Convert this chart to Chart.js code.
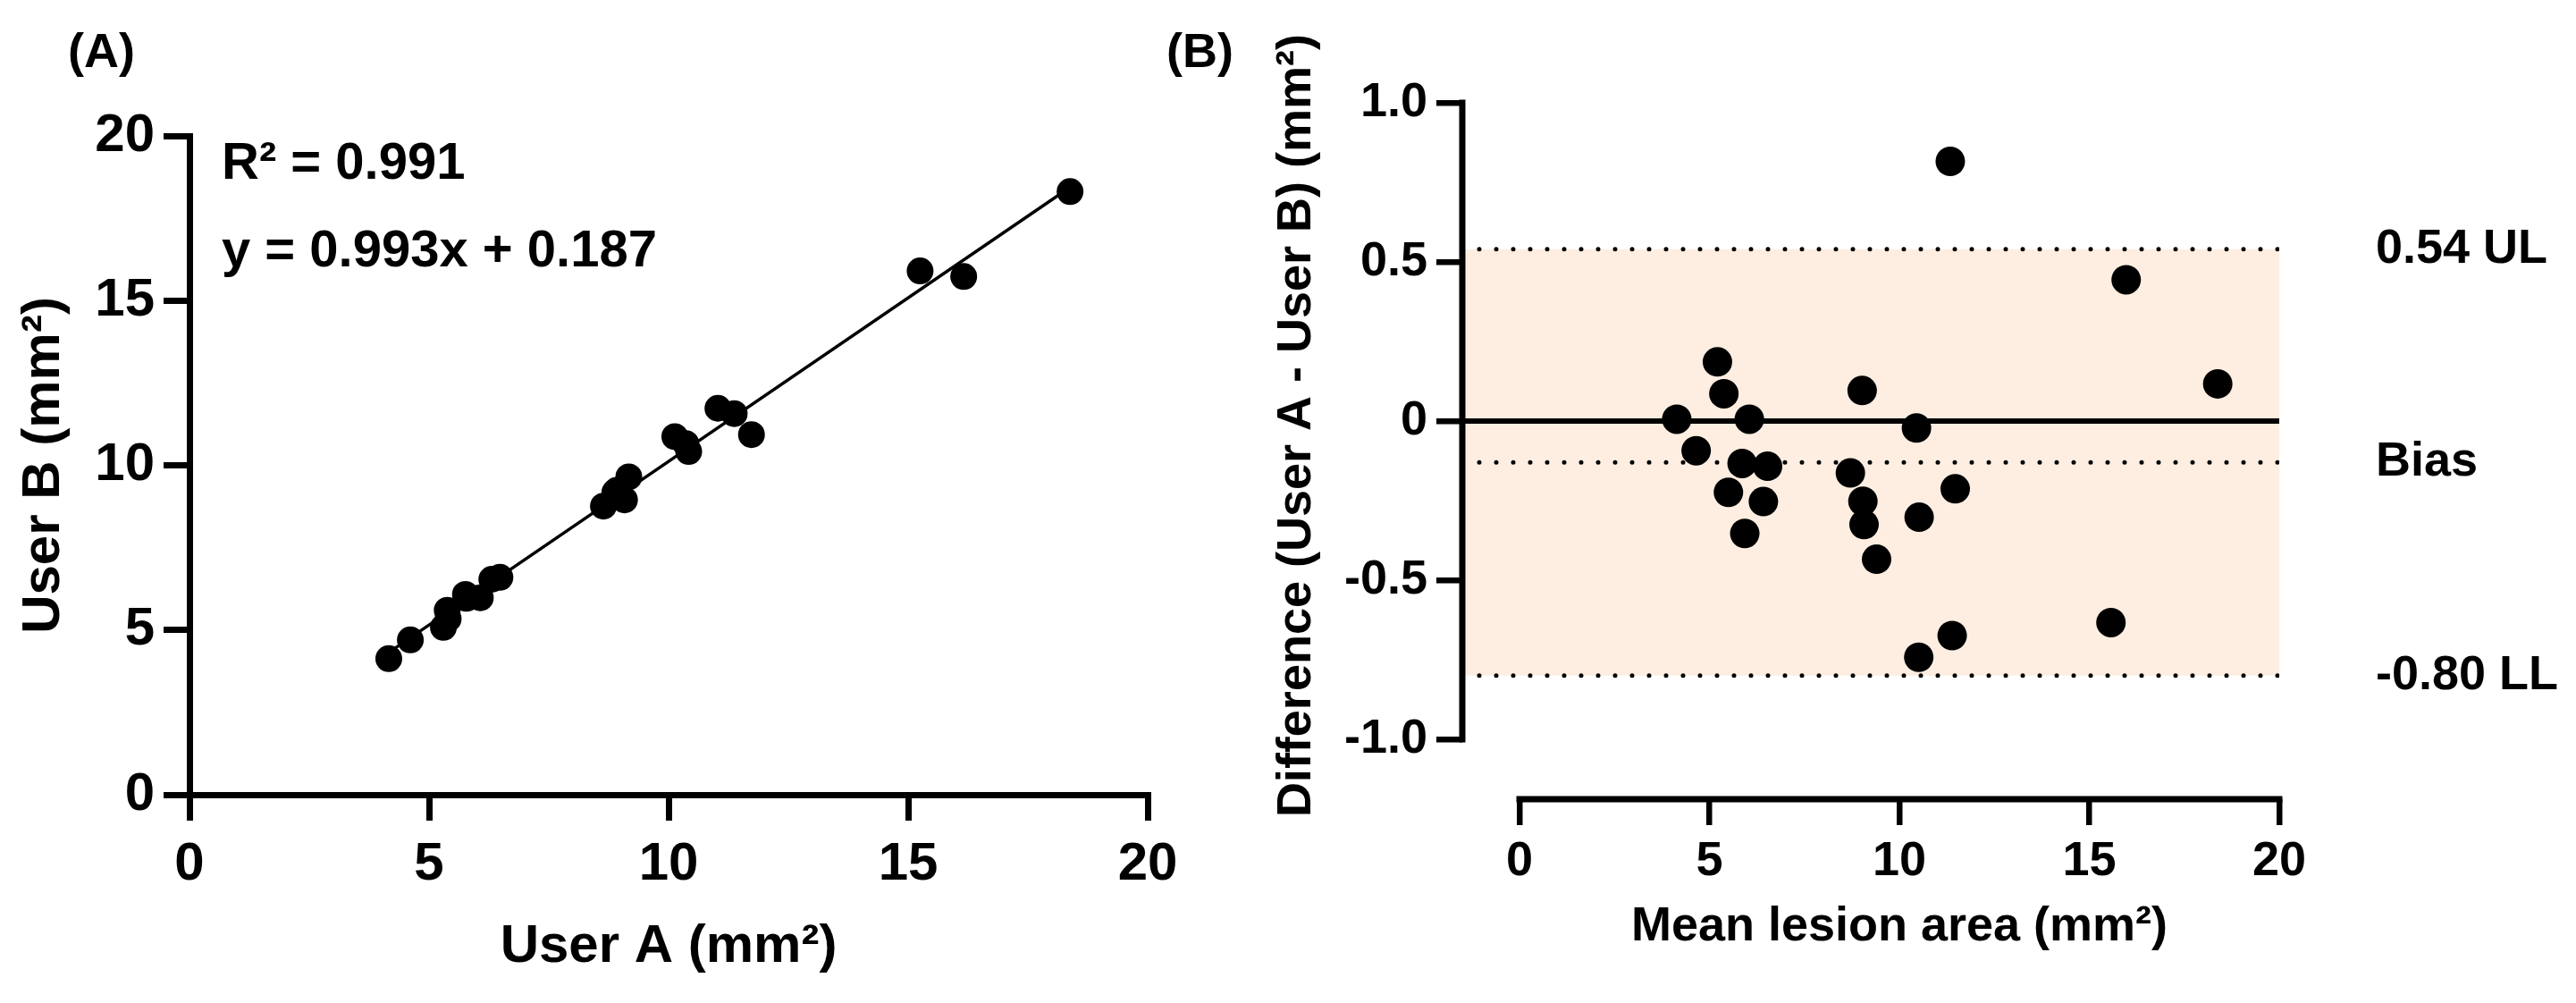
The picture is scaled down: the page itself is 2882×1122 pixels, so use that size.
<!DOCTYPE html>
<html><head><meta charset="utf-8">
<script src="https://cdn.jsdelivr.net/npm/chart.js@4.4.1/dist/chart.umd.min.js"></script>
<style>
html,body{margin:0;padding:0;background:#fff;}
body{width:2882px;height:1122px;position:relative;overflow:hidden;}
canvas{position:absolute;top:0;}
#cA{left:0;width:1440px;height:1122px;}
#cB{left:1300px;width:1582px;height:1122px;}
</style></head><body>
<canvas id="cA" width="1440" height="1122"></canvas>
<canvas id="cB" width="1582" height="1122"></canvas>
<script>
// ---------- Panel A: User A vs User B ----------
const userA = [4.16, 4.61, 5.30, 5.40, 5.38, 5.78, 5.76, 6.07, 6.31, 6.48, 8.64, 9.08, 8.88, 8.92, 9.17, 10.42, 10.36, 10.13, 11.73, 11.03, 11.37, 15.25, 16.16, 18.38];
const userB = [4.13, 4.70, 5.08, 5.34, 5.60, 5.96, 6.08, 5.98, 6.54, 6.60, 8.76, 8.95, 9.18, 9.24, 9.65, 10.42, 10.66, 10.87, 10.93, 11.73, 11.57, 15.90, 15.73, 18.31];
const fitSlope = 0.993;
const fitIntercept = 0.187;
const fitTexts = ['R\u00B2 = 0.991', 'y = 0.993x + 0.187'];
const ticksA = [0, 5, 10, 15, 20];
const tickLabelsA = ['0', '5', '10', '15', '20'];

// ---------- Panel B: Bland-Altman ----------
const meanArea = [4.14, 4.65, 5.21, 5.38, 5.50, 5.86, 5.93, 6.05, 6.42, 6.53, 8.71, 9.02, 9.04, 9.07, 9.40, 10.45, 10.52, 10.51, 11.34, 11.39, 11.47, 15.57, 15.97, 18.38];
const diffAB = [0.006, -0.093, 0.186, 0.086, -0.224, -0.133, -0.353, 0.006, -0.253, -0.142, -0.163, 0.096, -0.252, -0.325, -0.434, -0.022, -0.302, -0.742, 0.816, -0.674, -0.213, -0.633, 0.444, 0.117];
const limitValues = [0.54, -0.13, -0.80];
const limitLabels = ['0.54 UL', 'Bias', '-0.80 LL'];
const xTicksB = [0, 5, 10, 15, 20];
const xTickLabelsB = ['0', '5', '10', '15', '20'];
const yTicksB = [-1, -0.5, 0, 0.5, 1];
const yTickLabelsB = ['-1.0', '-0.5', '0', '0.5', '1.0'];

const FONT = '"Liberation Sans", Arial, Helvetica, sans-serif';
Chart.defaults.font.family = FONT;
Chart.defaults.color = '#000';

// ----- Chart A -----
const minA = Math.min(...userA), maxA = Math.max(...userA);
const fitLine = [minA, maxA].map(x => ({x: x, y: fitSlope * x + fitIntercept}));

const annotA = {
  id: 'annotA',
  afterDraw(chart) {
    const ctx = chart.ctx;
    ctx.save();
    ctx.fillStyle = '#000';
    ctx.textAlign = 'left';
    ctx.textBaseline = 'alphabetic';
    ctx.font = 'bold 54px ' + FONT;
    ctx.fillText('(A)', 76, 75);
    ctx.font = 'bold 58px ' + FONT;
    const x0 = chart.chartArea.left + 36;
    ctx.fillText(fitTexts[0], x0, 200);
    ctx.fillText(fitTexts[1], x0, 298);
    ctx.restore();
  }
};

const axisCommonA = {
  type: 'linear', min: 0, max: 20,
  ticks: {font: {size: 60, weight: 'bold'}, color: '#000', maxRotation: 0, autoSkip: false},
  grid: {drawOnChartArea: false, drawTicks: true, tickLength: 29, tickWidth: 7, tickColor: '#000', color: '#000', lineWidth: 7},
  border: {display: true, color: '#000', width: 7}
};

new Chart(document.getElementById('cA'), {
  type: 'scatter',
  data: {datasets: [
    {data: userA.map((a, i) => ({x: a, y: userB[i]})), pointRadius: 15, pointHoverRadius: 15, pointBackgroundColor: '#000', pointBorderWidth: 0, backgroundColor: '#000'},
    {type: 'line', data: fitLine, borderColor: '#000', borderWidth: 3.5, pointRadius: 0, fill: false, tension: 0}
  ]},
  options: {
    responsive: false, animation: false, devicePixelRatio: 1, events: [],
    layout: {padding: {left: 0, top: 152, right: 156, bottom: 0}},
    plugins: {legend: {display: false}, tooltip: {enabled: false}},
    scales: {
      x: Object.assign({}, axisCommonA, {
        position: 'bottom',
        afterFit(s) { s.height = 233; },
        afterBuildTicks(s) { s.ticks = ticksA.map(v => ({value: v})); },
        ticks: Object.assign({}, axisCommonA.ticks, {padding: 13, callback: v => tickLabelsA[ticksA.indexOf(v)]}),
        title: {display: true, text: 'User A (mm\u00B2)', font: {size: 60, weight: 'bold'}, color: '#000', padding: {top: 0, bottom: 27}}
      }),
      y: Object.assign({}, axisCommonA, {
        position: 'left',
        afterFit(s) { s.width = 212; },
        afterBuildTicks(s) { s.ticks = ticksA.map(v => ({value: v})); },
        ticks: Object.assign({}, axisCommonA.ticks, {padding: 10, callback: v => tickLabelsA[ticksA.indexOf(v)]}),
        title: {display: true, text: 'User B (mm\u00B2)', font: {size: 60, weight: 'bold'}, color: '#000', padding: {top: 13, bottom: 0}}
      })
    }
  },
  plugins: [annotA]
});

// ----- Chart B -----
const xMinB = -1.506, xMaxB = 20;
const yMinB = -1.188, yMaxB = 1.0;
const hLine = v => [{x: xMinB, y: v}, {x: xMaxB, y: v}];

const annotB = {
  id: 'annotB',
  afterDatasetsDraw(chart) {
    const ctx = chart.ctx, xs = chart.scales.x, ys = chart.scales.y, ca = chart.chartArea;
    ctx.save();
    ctx.strokeStyle = '#000';
    ctx.lineWidth = 7;
    ctx.lineCap = 'butt';
    // offset y axis line (from first to last tick)
    ctx.beginPath();
    ctx.moveTo(ca.left, ys.getPixelForValue(yTicksB[yTicksB.length - 1]) - 3.5);
    ctx.lineTo(ca.left, ys.getPixelForValue(yTicksB[0]) + 3.5);
    ctx.stroke();
    // offset x axis line
    ctx.beginPath();
    ctx.moveTo(xs.getPixelForValue(xTicksB[0]) - 3.5, ca.bottom);
    ctx.lineTo(xs.getPixelForValue(xTicksB[xTicksB.length - 1]) + 3.5, ca.bottom);
    ctx.stroke();
    ctx.restore();
  },
  afterDraw(chart) {
    const ctx = chart.ctx, xs = chart.scales.x, ys = chart.scales.y, ca = chart.chartArea;
    ctx.save();
    ctx.fillStyle = '#000';
    ctx.font = 'bold 54px ' + FONT;
    ctx.textAlign = 'left';
    ctx.textBaseline = 'alphabetic';
    ctx.fillText('(B)', 5, 75);
    // limit labels
    ctx.textBaseline = 'middle';
    limitValues.forEach((v, i) => {
      ctx.fillText(limitLabels[i], ca.right + 108, ys.getPixelForValue(v));
    });
    // axis titles centred on the offset axes
    ctx.textAlign = 'center';
    const xc = (xs.getPixelForValue(xTicksB[0]) + xs.getPixelForValue(xTicksB[xTicksB.length - 1])) / 2;
    ctx.fillText('Mean lesion area (mm\u00B2)', xc, 1037);
    const yc = (ys.getPixelForValue(yTicksB[0]) + ys.getPixelForValue(yTicksB[yTicksB.length - 1])) / 2;
    ctx.translate(151, yc + 5);
    ctx.rotate(-Math.PI / 2);
    ctx.fillText('Difference (User A - User B) (mm\u00B2)', 0, 0);
    ctx.restore();
  }
};

const dotted = {borderColor: '#000', borderWidth: 5, borderDash: [0, 19], borderCapStyle: 'round', pointRadius: 0, tension: 0};

new Chart(document.getElementById('cB'), {
  type: 'scatter',
  data: {datasets: [
    {data: meanArea.map((m, i) => ({x: m, y: diffAB[i]})), pointRadius: 16.5, pointHoverRadius: 16.5, pointBackgroundColor: '#000', pointBorderWidth: 0, backgroundColor: '#000'},
    {type: 'line', data: hLine(0), borderColor: '#000', borderWidth: 6, pointRadius: 0, fill: false, tension: 0},
    Object.assign({type: 'line', data: hLine(limitValues[0]), fill: 4, backgroundColor: '#fdeee1'}, dotted),
    Object.assign({type: 'line', data: hLine(limitValues[1]), fill: false}, dotted),
    Object.assign({type: 'line', data: hLine(limitValues[2]), fill: false}, dotted)
  ]},
  options: {
    responsive: false, animation: false, devicePixelRatio: 1, events: [],
    layout: {padding: {left: 0, top: 115, right: 332, bottom: 0}},
    plugins: {legend: {display: false}, tooltip: {enabled: false}, filler: {drawTime: 'beforeDatasetsDraw'}},
    scales: {
      x: {
        type: 'linear', position: 'bottom', min: xMinB, max: xMaxB,
        afterFit(s) { s.height = 228; },
        afterBuildTicks(s) { s.ticks = xTicksB.map(v => ({value: v})); },
        ticks: {font: {size: 54, weight: 'bold'}, color: '#000', padding: 8.6, maxRotation: 0, autoSkip: false, callback: v => xTickLabelsB[xTicksB.indexOf(v)]},
        grid: {drawOnChartArea: false, drawTicks: true, tickLength: 29, tickWidth: 6.5, tickColor: '#000', color: '#000', lineWidth: 6.5},
        border: {display: false}
      },
      y: {
        type: 'linear', position: 'left', min: yMinB, max: yMaxB,
        afterFit(s) { s.width = 336; },
        afterBuildTicks(s) { s.ticks = yTicksB.map(v => ({value: v})); },
        ticks: {font: {size: 54, weight: 'bold'}, color: '#000', padding: 10, autoSkip: false, callback: v => yTickLabelsB[yTicksB.indexOf(v)]},
        grid: {drawOnChartArea: false, drawTicks: true, tickLength: 29, tickWidth: 6.5, tickColor: '#000', color: '#000', lineWidth: 6.5},
        border: {display: false}
      }
    }
  },
  plugins: [annotB]
});
</script>
</body></html>
